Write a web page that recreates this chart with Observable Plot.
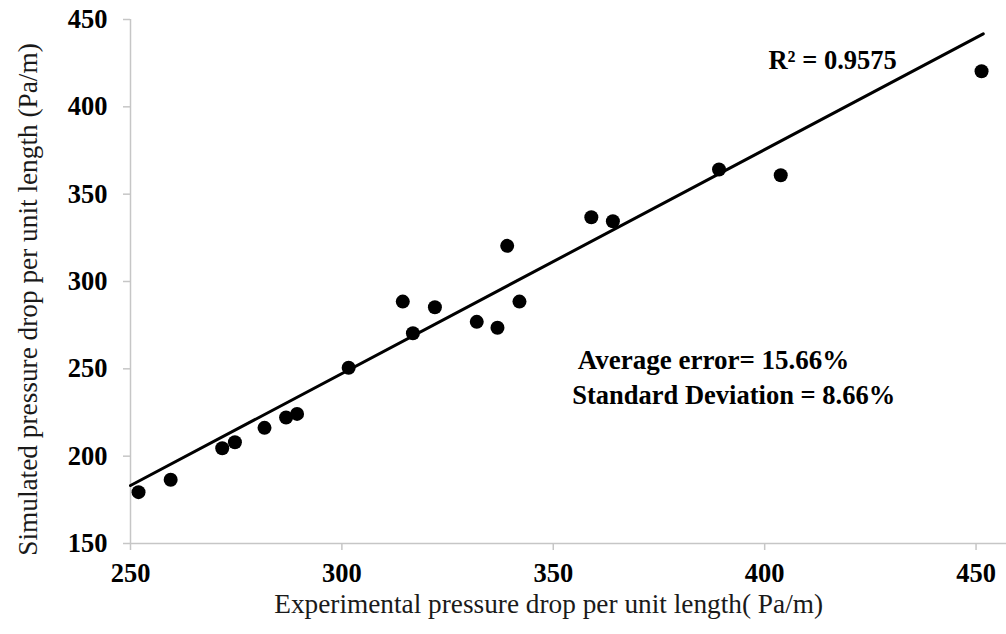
<!DOCTYPE html>
<html>
<head>
<meta charset="utf-8">
<script src="https://cdn.jsdelivr.net/npm/d3@7"></script>
<script src="https://cdn.jsdelivr.net/npm/@observablehq/plot@0.6"></script>
<style>
  html, body { margin: 0; padding: 0; background: #fff; }
  #chart svg { display: block; font-family: "Liberation Serif", "Times New Roman", serif !important; }
  #chart svg text { font-family: "Liberation Serif", "Times New Roman", serif !important; }
</style>
</head>
<body>
<div id="chart"></div>
<script>
// Experimental (x) vs simulated (y) pressure drop per unit length, Pa/m
const expX = [251.9, 259.5, 271.7, 274.7, 281.7, 286.8, 289.4, 301.6, 314.4, 316.8, 322.0, 331.9, 336.8, 339.1, 342.0, 359.0, 364.1, 389.2, 403.8, 451.3];
const simY = [179.4, 186.5, 204.5, 208.0, 216.2, 222.1, 224.2, 250.6, 288.5, 270.4, 285.3, 276.9, 273.5, 320.4, 288.5, 336.8, 334.5, 364.1, 360.8, 420.4];
// linear trendline as drawn in the reference (start / end values)
const trendX = [250, 451.7];
const trendY = [183.2, 441.8];
const xTicks = [250, 300, 350, 400, 450];
const yTicks = [150, 200, 250, 300, 350, 400, 450];
const xTitle = "Experimental pressure drop per unit length( Pa/m)";
const yTitle = "Simulated pressure drop per unit length (Pa/m)";
const annoR2 = "R² = 0.9575";
const annoErr = "Average error= 15.66%";
const annoSd = "Standard Deviation = 8.66%";

const points = expX.map((x, i) => ({x, y: simY[i]}));
const trend = trendX.map((x, i) => ({x, y: trendY[i]}));

const font = "Liberation Serif, Times New Roman, serif";
const axisGray = "#c6c6c6";
const fs = 26.5;
const titleFs = 27.3;

const chart = Plot.plot({
  width: 1006,
  height: 634,
  marginLeft: 130,
  marginRight: 0,
  marginTop: 19,
  marginBottom: 91,
  style: {fontFamily: font, background: "#fff", color: "#000"},
  x: {domain: [250, 457.2], axis: null},
  y: {domain: [150, 450], axis: null},
  marks: [
    Plot.ruleY([150], {stroke: axisGray, strokeWidth: 1.5}),
    Plot.ruleX([250], {stroke: axisGray, strokeWidth: 1.5}),
    Plot.tickX(xTicks, {x: d => d, y: null, stroke: axisGray, strokeWidth: 1.5, insetTop: 543 - 19, insetBottom: -7}),
    Plot.axisY(yTicks, {tickSize: 7, tickPadding: 16, stroke: axisGray, strokeWidth: 1.5, fill: "#000", fontSize: fs, fontWeight: "bold", label: null}),
    Plot.axisX(xTicks, {tickSize: 0, tickPadding: 20, fill: "#000", fontSize: fs, fontWeight: "bold", label: null}),
    Plot.text([xTitle], {x: 348.9, y: 150, textAnchor: "middle", lineAnchor: "middle", dy: 61, fontSize: titleFs, fill: "#1a1a1a"}),
    Plot.text([yTitle], {x: 250, y: 289.7, textAnchor: "middle", lineAnchor: "middle", rotate: -90, dx: -102.5, fontSize: titleFs, fill: "#1a1a1a"}),
    Plot.line(trend, {x: "x", y: "y", stroke: "#000", strokeWidth: 3}),
    Plot.dot(points, {x: "x", y: "y", r: 7, fill: "#000"}),
    Plot.text([annoR2], {x: 400.9, y: 426.8, textAnchor: "start", lineAnchor: "middle", fontSize: fs, fontWeight: "bold", fill: "#000"}),
    Plot.text([annoErr], {x: 355.8, y: 255.0, textAnchor: "start", lineAnchor: "middle", fontSize: 27, fontWeight: "bold", fill: "#000"}),
    Plot.text([annoSd], {x: 354.5, y: 235.0, textAnchor: "start", lineAnchor: "middle", fontSize: fs, fontWeight: "bold", fill: "#000"})
  ]
});
document.getElementById("chart").appendChild(chart);
</script>
</body>
</html>
